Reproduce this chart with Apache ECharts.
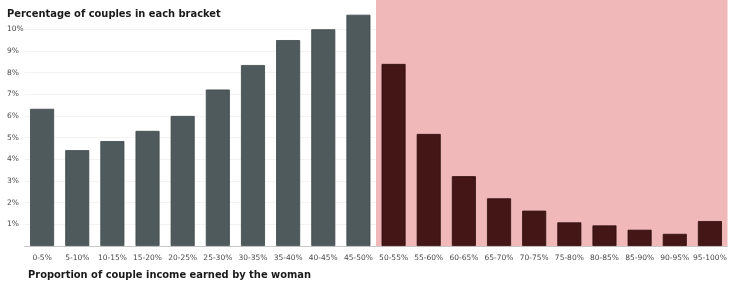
<!DOCTYPE html>
<html><head><meta charset="utf-8">
<script src="https://cdn.jsdelivr.net/npm/echarts@6/dist/echarts.min.js"></script>
<style>html,body{margin:0;padding:0;background:#fff}#c{width:754px;height:290px}</style>
</head><body><div id="c"></div>
<script>
const categories = ['0-5%','5-10%','10-15%','15-20%','20-25%','25-30%','30-35%','35-40%','40-45%','45-50%',
  '50-55%','55-60%','60-65%','65-70%','70-75%','75-80%','80-85%','85-90%','90-95%','95-100%'];
const values = [6.33, 4.42, 4.84, 5.31, 6.0, 7.22, 8.35, 9.5, 10.0, 10.67,
  8.4, 5.17, 3.22, 2.2, 1.63, 1.09, 0.95, 0.75, 0.56, 1.15];
const womanEarnsMore = [false,false,false,false,false,false,false,false,false,false,
  true,true,true,true,true,true,true,true,true,true];
const yTicks = [1,2,3,4,5,6,7,8,9,10];

const GRAY = '#4f5a5c', RED = '#441616', PINK = '#f0b8b8';
const chart = echarts.init(document.getElementById('c'), null, {renderer:'canvas'});
const font = 'DejaVu Sans';
const titleFont = '"DejaVu Sans Condensed", "DejaVu Sans"';
chart.setOption({
  animation: false,
  backgroundColor: '#fff',
  title: [
    {text: 'Percentage of couples in each bracket', left: 7, top: 8.5, padding: 0,
     textStyle: {fontFamily: titleFont, fontSize: 11, fontWeight: 'bold', color: '#1a1a1a'}},
    {text: 'Proportion of couple income earned by the woman', left: 28, top: 270, padding: 0,
     textStyle: {fontFamily: titleFont, fontSize: 11, fontWeight: 'bold', color: '#1a1a1a'}}
  ],
  grid: {left: 24.5, right: 26.5, top: 0, bottom: 44, containLabel: false},
  xAxis: {
    type: 'category', data: categories,
    axisLine: {lineStyle: {color: '#c8c8c8', width: 1}},
    axisTick: {show: false},
    axisLabel: {interval: 0, margin: 8, fontFamily: font, fontSize: 7.5, color: '#4a4a4a'},
    splitArea: {show: true, interval: 0,
      areaStyle: {color: womanEarnsMore.map(w => w ? PINK : 'rgba(255,255,255,0)')}}
  },
  yAxis: {
    type: 'value', min: 0, max: 11.35, interval: 1,
    axisLine: {show: false}, axisTick: {show: false},
    axisLabel: {align: 'left', margin: 17.5, fontFamily: font, fontSize: 7.5, color: '#4a4a4a',
      formatter: v => yTicks.includes(v) ? v + '%' : ''},
    splitLine: {lineStyle: {color: ['rgba(0,0,0,0)'].concat(yTicks.map(() => 'rgba(110,40,40,0.06)'), ['rgba(0,0,0,0)','rgba(0,0,0,0)']), width: 1}}
  },
  series: [{
    type: 'bar', barWidth: 24,
    data: values.map((v, i) => ({value: v, itemStyle: {
      color: womanEarnsMore[i] ? RED : GRAY,
      borderColor: womanEarnsMore[i] ? '#2e0c0c' : '#3e4849', borderWidth: 0.8}}))
  }]
});
</script></body></html>
